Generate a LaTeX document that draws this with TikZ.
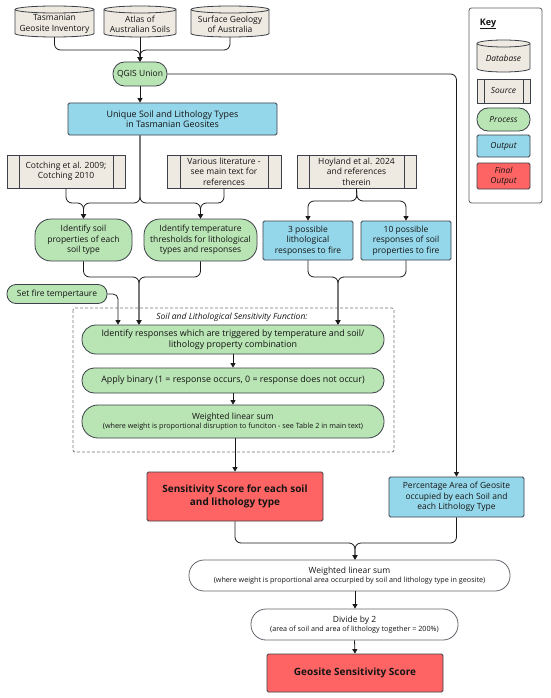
\documentclass[tikz,border=0pt]{standalone}
\usepackage{fontspec}
\setmainfont{Open Sans}
\usetikzlibrary{arrows.meta,calc}
\definecolor{beige}{HTML}{EEEAE1}
\definecolor{pgreen}{HTML}{B9E4B4}
\definecolor{oblue}{HTML}{95D7EA}
\definecolor{fred}{HTML}{FF6464}
\definecolor{bord}{HTML}{3C4048}
\definecolor{lin}{HTML}{1A1A1A}
\definecolor{txt}{HTML}{141414}
\tikzset{
  base/.style={draw=bord, line width=0.8pt, align=center, text=txt,
    font=\fontsize{8.5}{10.4}\selectfont, inner sep=1pt},
  src/.style={base, fill=beige, path picture={
    \draw[bord, line width=0.8pt]
      ([xshift=#1]path picture bounding box.north west) -- ([xshift=#1]path picture bounding box.south west)
      ([xshift=-#1]path picture bounding box.north east) -- ([xshift=-#1]path picture bounding box.south east);}},
  src/.default=12pt,
  proc/.style={base, fill=pgreen, rounded corners=#1},
  proc/.default=9pt,
  outp/.style={base, fill=oblue, rounded corners=1.5pt},
  fin/.style={base, fill=fred, rounded corners=1.5pt, font=\bfseries\fontsize{10}{13}\selectfont},
  wproc/.style={base, fill=white, draw=bord!80, rounded corners=#1},
  wide/.style={font=\fontsize{8.9}{10.6}\selectfont},
  conn/.style={draw=lin, line width=0.8pt, rounded corners=6pt},
  arr/.style={conn, -{Triangle[length=4.5pt,width=5pt]}},
  keyt/.style={font=\itshape\fontsize{8.4}{10.3}\selectfont},
}
\newcommand\smalltxt{\fontsize{7.2}{8.6}\selectfont}
% cylinder: name, x1, y1, x2, y2, text, extra node options
\newcommand\mydb[7]{%
  \pgfmathsetmacro\cxa{(#2+#4)/2}%
  \pgfmathsetmacro\rxa{(#4-#2)/2}%
  \pgfmathsetmacro\cya{(#3+#5)/2}%
  \filldraw[fill=beige, draw=bord, line width=0.8pt]
    (#2,{#3+3.5}) -- (#2,{#5-3.5})
    arc[start angle=180, end angle=360, x radius=\rxa pt, y radius=3.5pt]
    -- (#4,{#3+3.5})
    arc[start angle=0, end angle=180, x radius=\rxa pt, y radius=3.5pt] -- cycle;
  \draw[bord, line width=0.8pt] (#2,{#3+3.5})
    arc[start angle=180, end angle=360, x radius=\rxa pt, y radius=3.5pt];
  \node[inner sep=0pt, minimum width={#4-#2}, minimum height={#5-#3}] (#1) at (\cxa,\cya) {};
  \node[base, draw=none, #7] (#1t) at (\cxa,{\cya+2.5}) {#6};
}
\begin{document}
\begin{tikzpicture}[x=1pt, y=-1pt]
\useasboundingbox (0,0) rectangle (550,698);
\fill[white] (0,0) rectangle (550,698);

% databases
\mydb{dbone}{15}{6}{94}{37}{Tasmanian\\Geosite Inventory}{}
\mydb{dbtwo}{104}{6}{176}{37}{Atlas of\\Australian Soils}{}
\mydb{dbthree}{191}{6}{269}{37}{Surface Geology\\of Australia}{}

% key
\draw[draw=bord!85, line width=0.8pt, rounded corners=2.5pt, fill=white] (469,8) rectangle (542,203);
\node[font=\bfseries\fontsize{9}{10}\selectfont, text=txt, inner sep=0.5pt] (keylbl) at (488,24) {\underline{Key}};
\mydb{kdb}{477}{40}{530}{72}{Database}{keyt}
\node[src=7pt, keyt, minimum width=53, minimum height=24] (ksrc) at (503.5,91) {Source};
\node[proc=11pt, keyt, minimum width=53, minimum height=23] (kproc) at (503.5,119.5) {Process};
\node[outp, keyt, minimum width=53, minimum height=22] (kout) at (503.5,146) {Output};
\node[base, fill=fred, rounded corners=1.5pt, keyt, minimum width=53, minimum height=26] (kfin) at (503.5,176) {Final\\Output};

% main flow
\node[proc=11.5pt, minimum width=54, minimum height=24] (qgis) at (140,74) {QGIS Union};
\node[outp, wide, minimum width=209, minimum height=32] (unique) at (172.5,119) {Unique Soil and Lithology Types\\in Tasmanian Geosites};

\node[src, minimum width=118, minimum height=33] (cot) at (66,171.5) {Cotching et al. 2009;\\Cotching 2010};
\node[src=13pt, minimum width=114, minimum height=33] (var) at (224,171.5) {Various literature -\\see main text for\\references};
\node[src, minimum width=119, minimum height=33] (hoy) at (356.5,171.5) {Hoyland et al. 2024\\and references\\therein};

\node[proc=16pt, minimum width=97, minimum height=42] (isoil) at (83.5,240) {Identify soil\\properties of each\\soil type};
\node[proc=16pt, minimum width=113, minimum height=42] (itemp) at (200.5,240) {Identify temperature\\thresholds for lithological\\types and responses};
\node[outp, minimum width=90, minimum height=39] (lith) at (308,240.5) {3 possible\\lithological\\responses to fire};
\node[outp, minimum width=90, minimum height=39] (soilp) at (406,240.5) {10 possible\\responses of soil\\properties to fire};

\node[proc=9pt, minimum width=100, minimum height=19] (fire) at (57,294) {Set fire tempertaure};

\draw[draw=bord!70, line width=0.8pt, dash pattern=on 3pt off 2pt, rounded corners=2pt] (73,308) rectangle (394,452);
\node[font=\itshape\fontsize{8.5}{10}\selectfont, text=txt, inner sep=0.5pt] (functitle) at (232,317) {Soil and Lithological Sensitivity Function:};

\node[proc=14pt, wide, minimum width=302, minimum height=29] (ires) at (233,339.5) {Identify responses which are triggered by temperature and soil/\\lithology property combination};
\node[proc=12pt, wide, minimum width=302, minimum height=25] (apply) at (233,380.5) {Apply binary (1 = response occurs, 0 = response does not occur)};
\node[proc=16pt, minimum width=302, minimum height=33] (wsum) at (233,421.5) {Weighted linear sum\\[-1.5pt]{\smalltxt (where weight is proportional disruption to funciton - see Table 2 in main text)}};

\node[fin, minimum width=176, minimum height=49] (sens) at (235,496.5) {Sensitivity Score for each soil\\and lithology type};
\node[outp, minimum width=135, minimum height=40] (pct) at (456.5,497) {Percentage Area of Geosite\\occupied by each Soil and\\each Lithology Type};

\node[wproc=15pt, minimum width=321, minimum height=31] (wsumtwo) at (349.5,575.5) {Weighted linear sum\\[-1.5pt]{\smalltxt (where weight is proportional area occurpied by soil and lithology type in geosite)}};
\node[wproc=15pt, minimum width=207, minimum height=31] (div) at (354.5,624.5) {Divide by 2\\[-1.5pt]{\smalltxt (area of soil and area of lithology together = 200\%)}};
\node[fin, minimum width=176, minimum height=38] (geo) at (355,673) {Geosite Sensitivity Score};

% junction coordinates
\coordinate (jtop) at (140,50);
\coordinate (ja) at (140,203);
\coordinate (jb) at (357,201);
\coordinate (ml) at (139,277);
\coordinate (mr) at (338,277);
\coordinate (mb) at (355,543);

% connectors
\draw[arr] (dbone.south) |- (jtop) -- (qgis.north);
\draw[arr] (dbthree.south) |- (jtop) -- (qgis.north);
\draw[arr] (dbtwo.south) -- (qgis.north);
\draw[arr] (qgis.south) -- (qgis.south |- unique.north);
\draw[arr] (qgis.east) -| (pct.north);

\draw[arr] (qgis.south |- unique.south) -- (ja) -| (isoil.north);
\draw[arr] (qgis.south |- unique.south) -- (ja) -| (itemp.north);
\draw[arr] (cot.south) |- (ja -| isoil.north) -- (isoil.north);
\draw[arr] (var.south) |- (ja -| itemp.north) -- (itemp.north);
\draw[arr] (hoy.south) -- (jb) -| (lith.north);
\draw[arr] (hoy.south) -- (jb) -| (soilp.north);

\draw[arr] (isoil.south) |- (ml) -- (ml |- ires.north);
\draw[arr] (itemp.south) |- (ml) -- (ml |- ires.north);
\draw[arr] (lith.south) |- (mr) -- (mr |- ires.north);
\draw[arr] (soilp.south) |- (mr) -- (mr |- ires.north);
\draw[arr, rounded corners=5pt] (fire.east) -| (118,0 |- ires.north);

\draw[arr] (ires.south) -- (apply.north);
\draw[arr] (apply.south) -- (wsum.north);
\draw[arr] (sens.north |- wsum.south) -- (sens.north);

\draw[arr] (sens.south) |- (mb) -- (mb |- wsumtwo.north);
\draw[arr] (pct.south) |- (mb) -- (mb |- wsumtwo.north);
\draw[arr] (mb |- wsumtwo.south) -- (mb |- div.north);
\draw[arr] (div.south) -- (geo.north);
\end{tikzpicture}
\end{document}
